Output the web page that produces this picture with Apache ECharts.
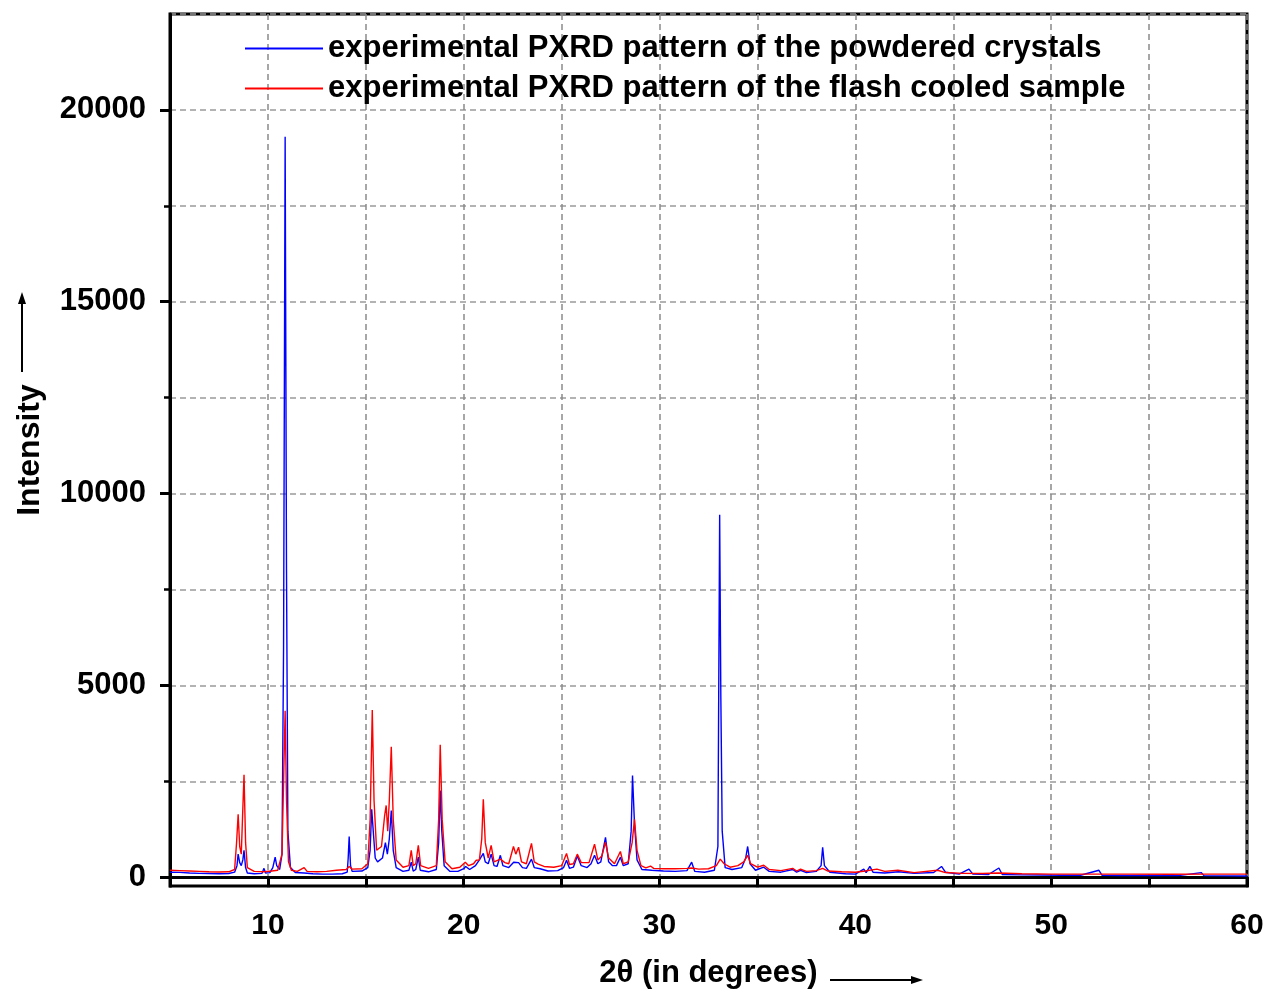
<!DOCTYPE html>
<html>
<head>
<meta charset="utf-8">
<script src="https://cdn.jsdelivr.net/npm/echarts@6/dist/echarts.min.js"></script>
<style>html,body{margin:0;padding:0;background:#fff;}#c{width:1269px;height:994px;}</style>
</head>
<body>
<div id="c"></div>
<script>
// ---- data ----
const seriesNames = [
  'experimental PXRD pattern of the powdered crystals',
  'experimental PXRD pattern of the flash cooled sample'
];
const xTickLabels = [10, 20, 30, 40, 50, 60];
const yTickLabels = [0, 5000, 10000, 15000, 20000];
const yMinorTicks = [2500, 7500, 12500, 17500];
const yGridValues = [0, 2500, 5000, 7500, 10000, 12500, 15000, 17500, 20000, 22500];

// powdered crystals (blue): [2theta, intensity]
const powderedCrystals = [
  [5.0,130],[5.5,125],[6.0,110],[6.5,100],[7.0,95],[7.5,90],[8.0,95],[8.3,130],[8.42,300],[8.48,600],[8.56,380],[8.64,300],[8.72,450],[8.78,700],[8.86,250],[8.95,110],[9.3,90],[9.7,100],[9.8,230],[9.88,110],[10.1,120],[10.25,250],[10.37,520],[10.45,300],[10.6,200],[10.72,600],[10.8,6000],[10.88,19300],[10.95,8000],[11.02,1200],[11.15,250],[11.4,120],[11.85,110],[12.3,90],[12.8,80],[13.3,80],[13.8,90],[14.05,130],[14.1,500],[14.15,1060],[14.22,300],[14.3,150],[14.8,160],[15.1,250],[15.22,700],[15.3,1770],[15.38,1200],[15.48,500],[15.6,400],[15.85,500],[16.0,900],[16.1,600],[16.2,1000],[16.3,1740],[16.4,700],[16.55,250],[16.9,150],[17.2,180],[17.32,390],[17.42,160],[17.55,200],[17.68,520],[17.78,180],[18.2,140],[18.6,200],[18.72,900],[18.8,2260],[18.88,1200],[19.0,300],[19.3,150],[19.7,150],[20.0,220],[20.1,280],[20.3,200],[20.6,300],[20.8,450],[21.0,620],[21.1,400],[21.25,350],[21.4,600],[21.55,300],[21.7,280],[21.87,570],[22.0,300],[22.3,250],[22.55,390],[22.8,380],[23.0,250],[23.2,230],[23.46,470],[23.6,250],[23.9,220],[24.3,160],[24.8,170],[25.1,250],[25.25,440],[25.4,230],[25.6,260],[25.8,550],[26.0,300],[26.3,250],[26.5,350],[26.68,570],[26.85,350],[27.0,400],[27.24,1040],[27.4,400],[27.6,300],[27.8,300],[28.0,520],[28.15,300],[28.4,350],[28.55,1200],[28.62,2650],[28.72,1400],[28.85,450],[29.1,200],[29.6,180],[30.2,160],[30.8,150],[31.4,170],[31.64,390],[31.8,150],[32.3,130],[32.8,180],[32.98,800],[33.07,9450],[33.13,4700],[33.2,1200],[33.35,250],[33.7,200],[34.2,250],[34.4,500],[34.5,800],[34.62,350],[34.9,180],[35.32,260],[35.6,150],[36.2,130],[36.8,200],[37.0,130],[37.2,180],[37.5,120],[38.0,150],[38.25,300],[38.33,780],[38.42,300],[38.7,130],[39.5,90],[40.0,80],[40.43,210],[40.55,120],[40.74,280],[40.9,130],[41.5,110],[42.2,140],[43.0,100],[44.0,120],[44.4,280],[44.6,130],[45.3,80],[45.8,210],[46.0,80],[46.8,70],[47.33,240],[47.5,70],[48.5,60],[49.5,55],[50.5,50],[51.5,50],[52.44,180],[52.6,50],[53.5,45],[55,45],[56.5,40],[57.66,120],[57.8,40],[59,35],[60,30]
];

// flash cooled sample (red): [2theta, intensity]
const flashCooled = [
  [5.0,180],[5.5,170],[6.0,160],[6.5,150],[7.0,140],[7.5,135],[8.0,140],[8.3,200],[8.4,900],[8.48,1640],[8.56,800],[8.64,600],[8.7,1500],[8.78,2670],[8.86,900],[8.95,250],[9.3,150],[9.8,140],[10.2,160],[10.5,180],[10.72,600],[10.8,2500],[10.88,4340],[10.95,2000],[11.05,400],[11.2,180],[11.5,150],[11.85,250],[12.0,150],[12.5,140],[13.0,150],[13.5,180],[14.0,200],[14.15,280],[14.3,210],[14.8,220],[15.1,350],[15.22,1500],[15.33,4360],[15.42,2000],[15.55,700],[15.8,800],[15.96,1600],[16.04,1870],[16.12,1200],[16.2,2000],[16.3,3400],[16.4,1500],[16.55,450],[16.9,260],[17.2,300],[17.32,700],[17.42,300],[17.55,350],[17.68,830],[17.8,300],[18.2,230],[18.6,300],[18.72,1500],[18.8,3450],[18.9,1500],[19.05,400],[19.4,220],[19.8,260],[20.08,390],[20.25,300],[20.5,350],[20.64,440],[20.8,450],[20.92,1000],[21.0,2030],[21.1,900],[21.25,500],[21.4,830],[21.55,400],[21.87,470],[22.1,380],[22.3,350],[22.54,800],[22.66,600],[22.8,780],[22.95,400],[23.2,350],[23.46,880],[23.6,400],[23.8,340],[24.1,280],[24.6,260],[25.0,300],[25.25,620],[25.4,330],[25.6,350],[25.8,600],[26.0,380],[26.4,380],[26.68,860],[26.85,450],[27.05,550],[27.24,910],[27.4,500],[27.7,350],[28.0,670],[28.15,350],[28.4,400],[28.6,900],[28.72,1510],[28.85,700],[29.05,300],[29.3,240],[29.54,290],[29.7,230],[30.2,220],[30.8,220],[31.4,230],[31.64,240],[32.0,210],[32.5,220],[32.9,300],[33.1,470],[33.3,350],[33.6,260],[34.0,300],[34.3,400],[34.5,570],[34.65,350],[35.0,260],[35.32,310],[35.6,200],[36.2,170],[36.8,230],[37.0,160],[37.2,210],[37.5,150],[38.0,170],[38.33,230],[38.6,160],[39.3,140],[40.0,130],[40.5,160],[41.1,210],[41.5,150],[42.17,180],[43.0,120],[44.2,180],[44.6,120],[45.5,100],[46.5,95],[47.3,110],[48.5,90],[50,80],[52,80],[54,80],[56,75],[58,80],[60,80]
];

// ---- chart ----
const FONT = '"Liberation Sans", Arial, sans-serif';
const chart = echarts.init(document.getElementById('c'), null, {renderer: 'canvas'});
const yMin = -230, yMax = 22500;
const gridLine = {show: true, lineStyle: {color: '#9a9a9a', type: [6, 4], width: 1.5}};

chart.setOption({
  animation: false,
  backgroundColor: '#fff',
  grid: {left: 170, right: 22, top: 14, bottom: 104, show: true, borderColor: '#000', borderWidth: 3, backgroundColor: 'transparent'},
  legend: {
    orient: 'vertical', left: 240, top: 28, itemGap: 9,
    icon: 'rect', itemWidth: 78, itemHeight: 1.8,
    data: seriesNames,
    textStyle: {fontFamily: FONT, fontWeight: 'bold', fontSize: 31, color: '#000'}
  },
  xAxis: {
    type: 'value', min: 5, max: 60, interval: 5,
    name: '2θ (in degrees)', nameLocation: 'middle', nameGap: 72,
    nameTextStyle: {fontFamily: FONT, fontWeight: 'bold', fontSize: 31, color: '#000'},
    axisLine: {show: true, lineStyle: {color: '#000', width: 3}},
    axisTick: {show: true, length: 10, lineStyle: {color: '#000', width: 3}},
    axisLabel: {
      margin: 25, fontFamily: FONT, fontWeight: 'bold', fontSize: 30, color: '#000',
      formatter: v => (xTickLabels.indexOf(v) >= 0 ? String(v) : '')
    },
    splitLine: {show: true, lineStyle: {color: '#8a8a8a', type: [6, 4], width: 1.5}}
  },
  yAxis: [
    {
      type: 'value', min: yMin, max: yMax, position: 'left',
      name: 'Intensity', nameLocation: 'middle', nameGap: 124, nameRotate: 90,
      nameTextStyle: {fontFamily: FONT, fontWeight: 'bold', fontSize: 32, color: '#000'},
      axisLine: {show: true, lineStyle: {color: '#000', width: 3}},
      axisTick: {show: true, length: 10, customValues: yTickLabels, lineStyle: {color: '#000', width: 3}},
      axisLabel: {margin: 24, customValues: yTickLabels, formatter: v => String(v),
        fontFamily: FONT, fontWeight: 'bold', fontSize: 31, color: '#000'},
      splitLine: {show: false}
    },
    {
      type: 'value', min: yMin, max: yMax, position: 'left',
      axisLine: {show: false},
      axisTick: {show: true, length: 6, customValues: yMinorTicks, lineStyle: {color: '#000', width: 2.5}},
      axisLabel: {show: false},
      splitLine: {show: false}
    },
    {
      type: 'value', min: yMin, max: yMax, position: 'left',
      axisLine: {show: false},
      axisTick: {show: false, customValues: yGridValues},
      axisLabel: {show: false, customValues: yGridValues},
      splitLine: gridLine
    }
  ],
  graphic: [
    {type: 'line', shape: {x1: 22, y1: 372, x2: 22, y2: 300}, style: {stroke: '#000', lineWidth: 2}},
    {type: 'polygon', shape: {points: [[22, 292], [18, 304], [26, 304]]}, style: {fill: '#000'}},
    {type: 'line', shape: {x1: 830, y1: 980, x2: 914, y2: 980}, style: {stroke: '#000', lineWidth: 2}},
    {type: 'polygon', shape: {points: [[923, 980], [911, 976], [911, 984]]}, style: {fill: '#000'}}
  ],
  series: [
    {name: seriesNames[0], type: 'line', data: powderedCrystals, showSymbol: false, symbol: 'none',
     lineStyle: {color: '#0000ff', width: 1.4}, itemStyle: {color: '#0000ff'}, z: 2},
    {name: seriesNames[1], type: 'line', data: flashCooled, showSymbol: false, symbol: 'none',
     lineStyle: {color: '#ff0000', width: 1.4}, itemStyle: {color: '#ff0000'}, z: 3}
  ]
});
</script>
</body>
</html>
